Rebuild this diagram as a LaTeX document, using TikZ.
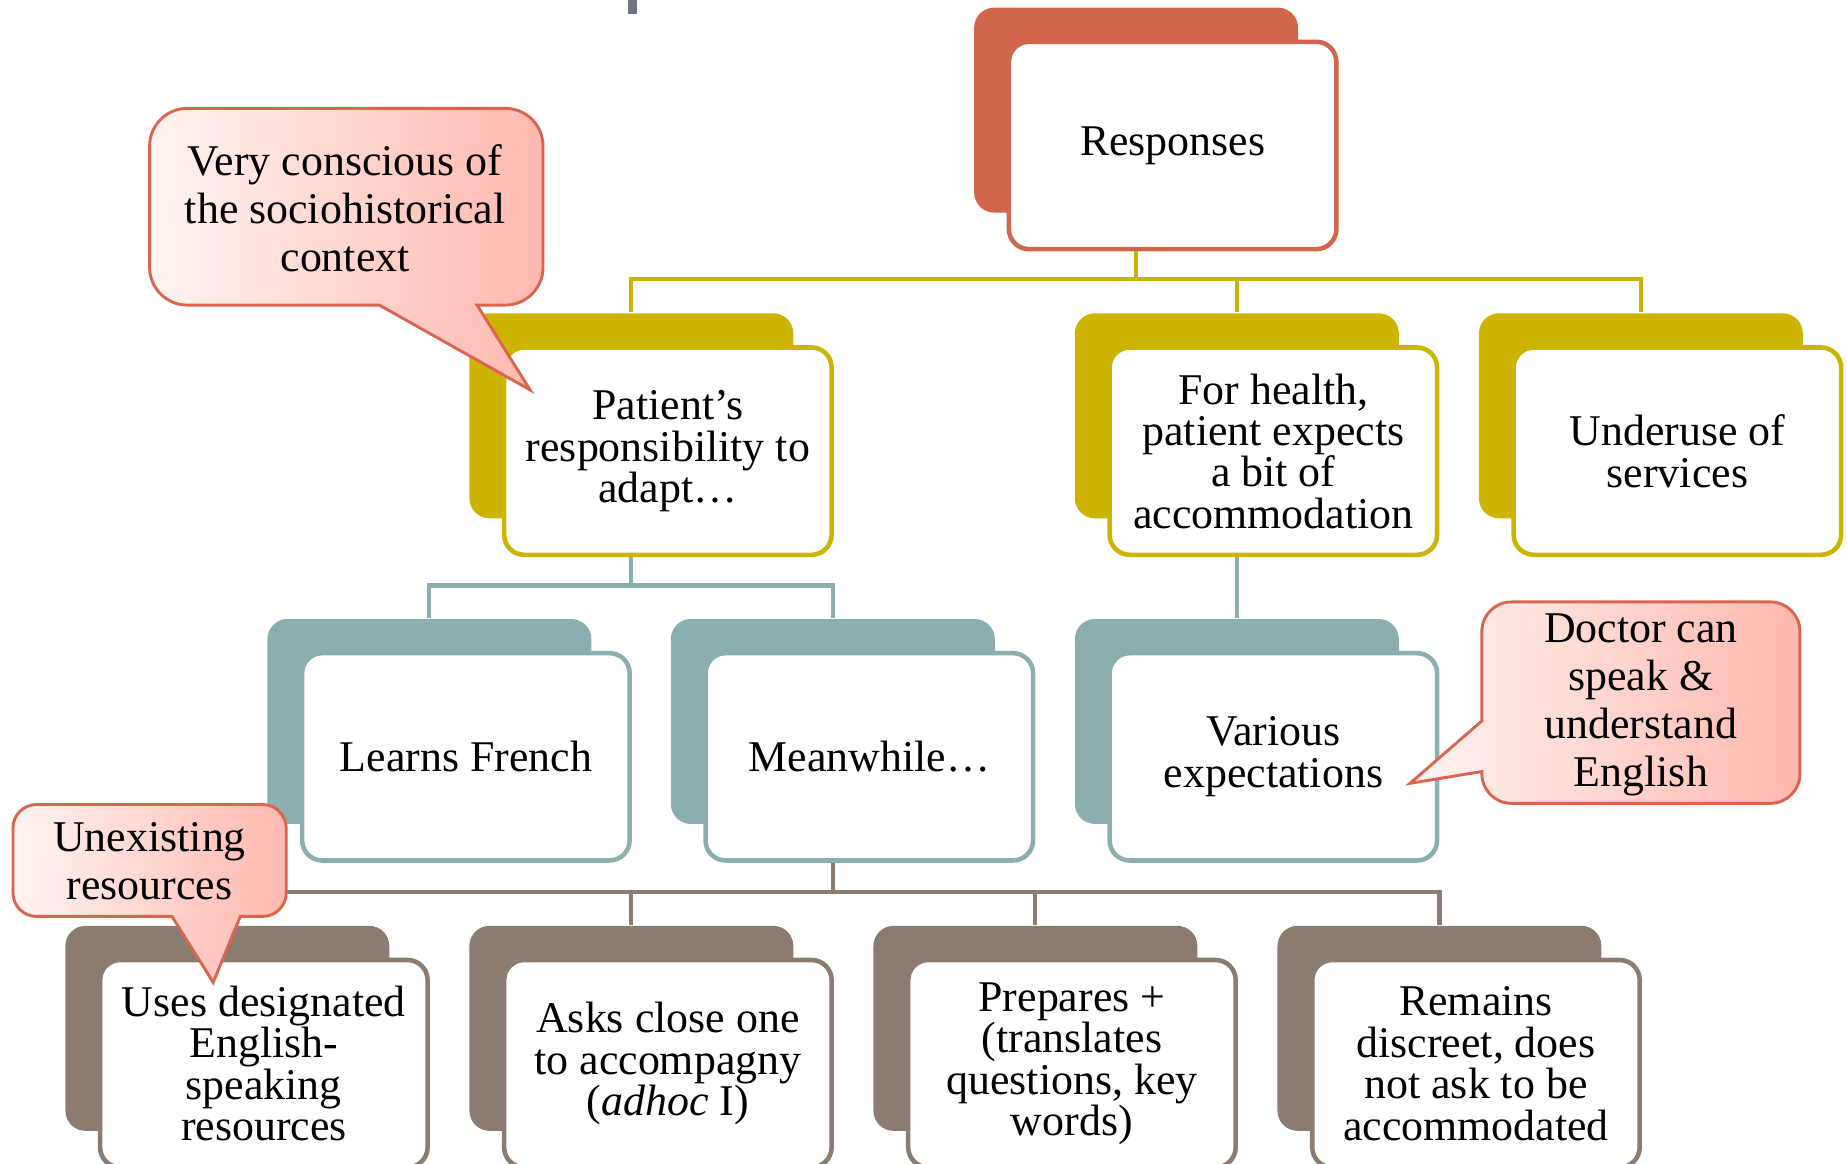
\documentclass[tikz,border=0pt]{standalone}
\usepackage{fontspec}
\setmainfont{Liberation Serif}
\usepackage{tikz}
\definecolor{respcol}{HTML}{D3654B}
\definecolor{ycol}{HTML}{CCB400}
\definecolor{tcol}{HTML}{8BAFAF}
\definecolor{bcol}{HTML}{8C7B70}
\definecolor{pinkL}{HTML}{FFF4F2}
\definecolor{pinkR}{HTML}{FFB8AE}
\definecolor{callborder}{HTML}{D9654E}
\definecolor{markcol}{HTML}{6E7385}

\begin{document}
\begin{tikzpicture}
\tikzstyle{every node}=[font=\fontsize{10.6}{10}\selectfont]
\tikzstyle{back}=[rounded corners=0.17cm, minimum width=2.75cm, minimum height=1.74cm, inner sep=0pt]
\tikzstyle{front}=[rounded corners=0.17cm, fill=white, line width=1.1pt, minimum width=2.78cm, minimum height=1.76cm, align=center, inner sep=0pt]
\tikzstyle{conn}=[line width=1pt]
\tikzstyle{callout}=[draw=callborder, line width=0.7pt, left color=pinkL, right color=pinkR]
\tikzstyle{calltext}=[align=center, font=\fontsize{10.6}{11.6}\selectfont]

\useasboundingbox (0,0) rectangle (15.68,-9.88);
\clip (0,0) rectangle (15.68,-9.88);

%top mark
\fill[markcol] (5.33,0) rectangle (5.41,-0.12);

%back boxes
\node[back, fill=respcol] (respB) at (9.645,-0.935) {};
\node[back, fill=ycol] (patientB) at (5.36,-3.53) {};
\node[back, fill=ycol] (healthB) at (10.50,-3.53) {};
\node[back, fill=ycol] (underuseB) at (13.93,-3.53) {};
\node[back, fill=tcol] (frenchB) at (3.645,-6.125) {};
\node[back, fill=tcol] (meanB) at (7.07,-6.125) {};
\node[back, fill=tcol] (variousB) at (10.50,-6.125) {};
\node[back, fill=bcol] (usesB) at (1.93,-8.73) {};
\node[back, fill=bcol] (asksB) at (5.36,-8.73) {};
\node[back, fill=bcol] (prepB) at (8.79,-8.73) {};
\node[back, fill=bcol] (remainsB) at (12.22,-8.73) {};

%front boxes
\node[front, draw=respcol] (resp) at ([shift={(0.31,-0.30)}]respB) {Responses};
\node[front, draw=ycol] (patient) at ([shift={(0.31,-0.30)}]patientB) {Patient’s\\responsibility to\\adapt…};
\node[front, draw=ycol] (health) at ([shift={(0.31,-0.30)}]healthB) {For health,\\patient expects\\a bit of\\accommodation};
\node[front, draw=ycol] (underuse) at ([shift={(0.31,-0.30)}]underuseB) {Underuse of\\services};
\node[front, draw=tcol] (french) at ([shift={(0.31,-0.30)}]frenchB) {Learns French};
\node[front, draw=tcol] (mean) at ([shift={(0.31,-0.30)}]meanB) {Meanwhile…};
\node[front, draw=tcol] (various) at ([shift={(0.31,-0.30)}]variousB) {Various\\expectations};
\node[front, draw=bcol] (uses) at ([shift={(0.31,-0.30)}]usesB) {Uses designated\\English-\\speaking\\resources};
\node[front, draw=bcol] (asks) at ([shift={(0.31,-0.30)}]asksB) {Asks close one\\to accompagny\\(\textit{adhoc} I)};
\node[front, draw=bcol] (prep) at ([shift={(0.31,-0.30)}]prepB) {Prepares +\\(translates\\questions, key\\words)};
\node[front, draw=bcol] (remains) at ([shift={(0.31,-0.30)}]remainsB) {Remains\\discreet, does\\not ask to be\\accommodated};

%connectors
\coordinate (ybus) at (9.645,-2.37);
\draw[conn, ycol] (resp.south -| respB) -- (ybus);
\draw[conn, ycol] (ybus) -| (patientB.north);
\draw[conn, ycol] (ybus) -| (healthB.north);
\draw[conn, ycol] (ybus) -| (underuseB.north);

\coordinate (tbus) at (5.36,-4.97);
\draw[conn, tcol] (patient.south -| patientB) -- (tbus) -| (frenchB.north);
\draw[conn, tcol] (tbus) -| (meanB.north);
\draw[conn, tcol] (health.south -| healthB) -- (variousB.north);

\coordinate (bbus) at (7.07,-7.57);
\draw[conn, bcol] (mean.south -| meanB) -- (bbus);
\draw[conn, bcol] (bbus) -| (usesB.north);
\draw[conn, bcol] (bbus) -| (asksB.north);
\draw[conn, bcol] (bbus) -| (prepB.north);
\draw[conn, bcol] (bbus) -| (remainsB.north);

%callouts
\draw[callout] (1.27,-1.75) [rounded corners=0.32cm] -- (1.27,-0.92) -- (4.61,-0.92) -- (4.61,-2.59) [sharp corners] -- (4.05,-2.59) -- (4.50,-3.31) -- (3.22,-2.59) [rounded corners=0.32cm] -- (1.27,-2.59) -- cycle;
\node[calltext] (conscious) at (2.93,-1.77) {Very conscious of\\the sociohistorical\\context};

\draw[callout] (14.0,-5.11) [rounded corners=0.25cm] -- (15.28,-5.11) -- (15.28,-6.82) -- (12.58,-6.82) [sharp corners] -- (12.58,-6.55) -- (11.97,-6.65) -- (12.58,-6.12) [rounded corners=0.25cm] -- (12.58,-5.11) -- cycle;
\node[calltext] (doctor) at (13.93,-5.98) {Doctor can\\speak \&\\understand\\English};

\draw[callout] (0.11,-7.3) [rounded corners=0.2cm] -- (0.11,-6.83) -- (2.43,-6.83) -- (2.43,-7.78) [sharp corners] -- (2.04,-7.78) -- (1.81,-8.34) -- (1.46,-7.78) [rounded corners=0.2cm] -- (0.11,-7.78) -- cycle;
\node[calltext] (unexisting) at (1.27,-7.31) {Unexisting\\resources};
\end{tikzpicture}
\end{document}
